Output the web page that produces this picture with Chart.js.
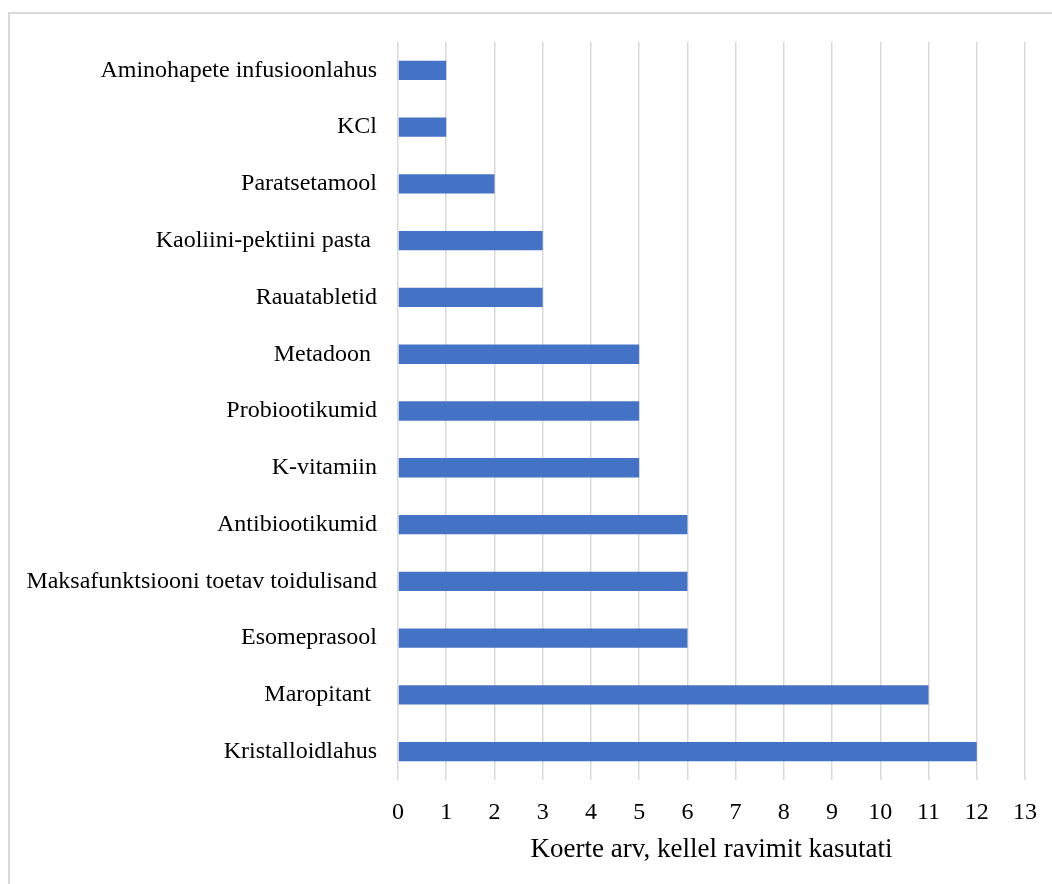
<!DOCTYPE html>
<html>
<head>
<meta charset="utf-8">
<script src="https://cdn.jsdelivr.net/npm/chart.js@4/dist/chart.umd.min.js"></script>
<style>
  html, body { margin: 0; padding: 0; background: #fff; }
  #frame {
    position: absolute; left: 8px; top: 12px;
    width: 1100px; height: 920px;
    border: 2px solid #d9d9d9; box-sizing: border-box;
  }
  #wrap { position: absolute; left: 0; top: 0; width: 1052px; height: 884px; }
</style>
</head>
<body>
<div id="frame"></div>
<div id="wrap"><canvas id="chart"></canvas></div>
<script>
const drugs = [
  'Aminohapete infusioonlahus',
  'KCl',
  'Paratsetamool',
  'Kaoliini-pektiini pasta ',
  'Rauatabletid',
  'Metadoon ',
  'Probiootikumid',
  'K-vitamiin',
  'Antibiootikumid',
  'Maksafunktsiooni toetav toidulisand',
  'Esomeprasool',
  'Maropitant ',
  'Kristalloidlahus'
];
const dogCounts = [1, 1, 2, 3, 3, 5, 5, 5, 6, 6, 6, 11, 12];
const xTicks = [0, 1, 2, 3, 4, 5, 6, 7, 8, 9, 10, 11, 12, 13];
const xTitle = 'Koerte arv, kellel ravimit kasutati';

const serif = "'Liberation Serif', 'Times New Roman', serif";

new Chart(document.getElementById('chart'), {
  type: 'bar',
  data: {
    labels: drugs,
    datasets: [{
      data: dogCounts,
      backgroundColor: '#4472c4',
      borderWidth: 0,
      categoryPercentage: 1,
      barPercentage: 0.34
    }]
  },
  options: {
    indexAxis: 'y',
    responsive: true,
    maintainAspectRatio: false,
    animation: false,
    layout: { padding: { left: 0, top: 42, right: 27, bottom: 0 } },
    plugins: { legend: { display: false }, tooltip: { enabled: false } },
    scales: {
      x: {
        min: xTicks[0],
        max: xTicks[xTicks.length - 1],
        afterBuildTicks: (s) => { s.ticks = xTicks.map(v => ({ value: v })); },
        grid: { color: '#d9d9d9', lineWidth: 1.5, drawTicks: false },
        border: { display: false },
        ticks: { color: '#000', padding: 18, font: { family: serif, size: 24 } },
        title: {
          display: true, text: xTitle, color: '#000',
          padding: { top: 4, bottom: 18 },
          font: { family: serif, size: 27 }
        },
        afterFit: (s) => { s.height = 104; s.paddingLeft = 0; s.paddingRight = 0; }
      },
      y: {
        grid: { display: false },
        border: { display: false },
        ticks: { color: '#000', padding: 13, font: { family: serif, size: 24 } },
        afterFit: (s) => { s.width = 398; }
      }
    }
  }
});
</script>
</body>
</html>
